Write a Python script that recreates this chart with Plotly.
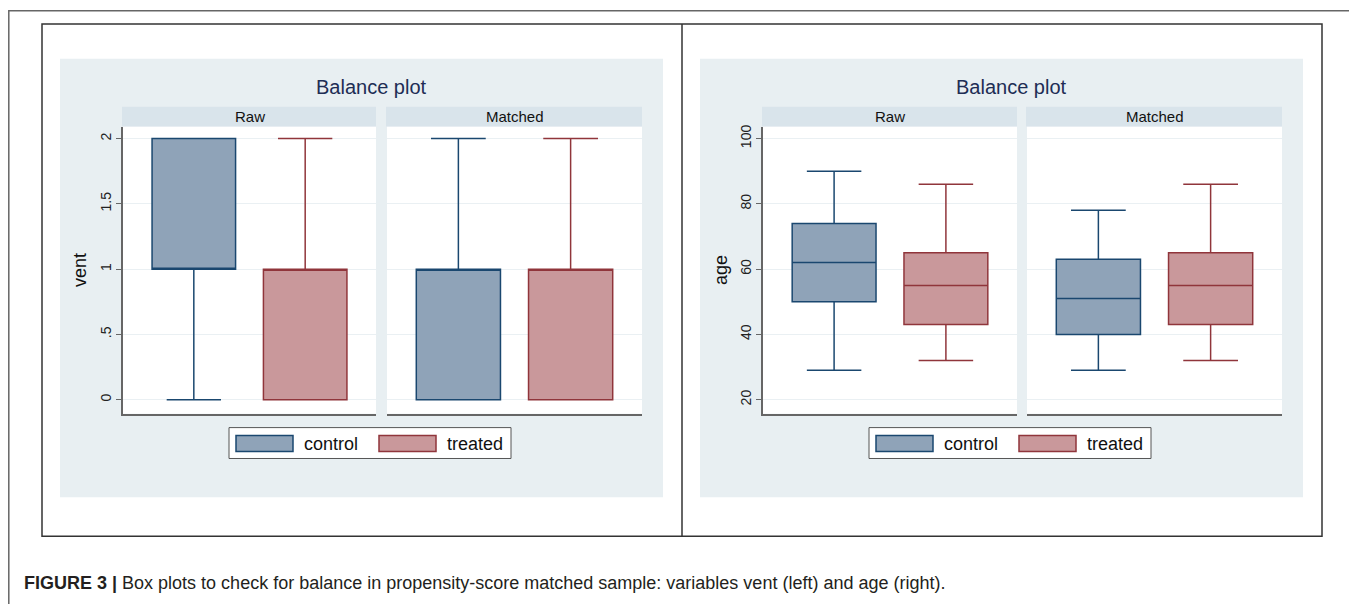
import plotly.graph_objects as go

# page body has an 8px default margin; lay out in page pixels and convert
OFF = 8
W, H = 1357 - OFF, 604 - OFF

groups = ["control", "treated"]
facets = ["Raw", "Matched"]

# vent: [lowerfence, q1, median, q3, upperfence] per facet per group
vent_raw_control = [0, 1, 1, 2, 2]
vent_raw_treated = [0, 0, 1, 1, 2]
vent_matched_control = [0, 0, 1, 1, 2]
vent_matched_treated = [0, 0, 1, 1, 2]

age_raw_control = [29, 50, 62, 74, 90]
age_raw_treated = [32, 43, 55, 65, 86]
age_matched_control = [29, 40, 51, 63, 78]
age_matched_treated = [32, 43, 55, 65, 86]

vent_ticks = [0, 0.5, 1, 1.5, 2]
vent_ticktext = ["0", ".5", "1", "1.5", "2"]
age_ticks = [20, 40, 60, 80, 100]
age_ticktext = ["20", "40", "60", "80", "100"]

caption_bold = "FIGURE 3 |"
caption_text = " Box plots to check for balance in propensity-score matched sample: variables vent (left) and age (right)."

FONT = "Arial, Liberation Sans, sans-serif"
fill_c = {"control": "rgba(143,163,184,1)", "treated": "rgba(201,152,155,1)"}
line_c = {"control": "#1a476f", "treated": "#90353b"}

def px(x):
    return (x - OFF) / W

def py(y):
    return 1 - (y - OFF) / H

fig = go.Figure()

panels = [
    (1, [vent_raw_control, vent_raw_treated], (123, 376)),
    (2, [vent_matched_control, vent_matched_treated], (387, 642)),
    (3, [age_raw_control, age_raw_treated], (763, 1017)),
    (4, [age_matched_control, age_matched_treated], (1027, 1282)),
]

for idx, data, _ in panels:
    suffix = "" if idx == 1 else str(idx)
    for g, vals in zip(groups, data):
        fig.add_trace(go.Box(
            x=[g], lowerfence=[vals[0]], q1=[vals[1]], median=[vals[2]],
            q3=[vals[3]], upperfence=[vals[4]],
            fillcolor=fill_c[g], line=dict(color=line_c[g], width=1.5),
            width=0.75, whiskerwidth=0.65, boxpoints=False,
            showlegend=False, hoverinfo="skip",
            xaxis="x" + suffix, yaxis="y" + suffix,
        ))

ydom = [py(413), py(125)]
layout = dict(
    width=W, height=H, autosize=False,
    margin=dict(l=0, r=0, t=0, b=0),
    paper_bgcolor="white", plot_bgcolor="white",
    font=dict(family=FONT, color="#222"),
    boxmode="overlay",
)
for idx, data, (x0, x1) in panels:
    suffix = "" if idx == 1 else str(idx)
    layout["xaxis" + suffix] = dict(
        domain=[px(x0), px(x1)], anchor="y" + suffix,
        type="category", categoryorder="array", categoryarray=groups,
        range=[-0.636, 1.636], showticklabels=False, ticks="",
        showgrid=False, zeroline=False, showline=True,
        linecolor="#666", linewidth=1.5, fixedrange=True,
    )
    is_vent = idx in (1, 2)
    first = idx in (1, 3)
    layout["yaxis" + suffix] = dict(
        domain=ydom, anchor="x" + suffix,
        range=[-0.107, 2.092] if is_vent else [15.73, 103.66],
        tickvals=vent_ticks if is_vent else age_ticks,
        ticktext=vent_ticktext if is_vent else age_ticktext,
        showticklabels=first, ticks="outside" if first else "",
        ticklen=5, tickcolor="#666", tickwidth=1,
        tickangle=-90, tickfont=dict(size=14, color="#222"),
        showgrid=True, gridcolor="#eaf0f3", gridwidth=1,
        zeroline=False, showline=first, linecolor="#666", linewidth=1.5,
        fixedrange=True,
    )
fig.update_layout(**layout)

shapes = []
annotations = []

# panel backgrounds
for (x0, x1) in [(60, 663), (700, 1303)]:
    shapes.append(dict(type="rect", xref="paper", yref="paper", layer="below",
                       x0=px(x0), x1=px(x1), y0=py(497), y1=py(57),
                       fillcolor="#e8eff2", line=dict(width=0)))
# plot area white backgrounds & strips
for idx, data, (x0, x1) in panels:
    shapes.append(dict(type="rect", xref="paper", yref="paper", layer="below",
                       x0=px(x0), x1=px(x1), y0=py(413), y1=py(125),
                       fillcolor="white", line=dict(width=0)))
    shapes.append(dict(type="rect", xref="paper", yref="paper", layer="below",
                       x0=px(x0 - 1), x1=px(x1), y0=py(125), y1=py(105),
                       fillcolor="#d9e4eb", line=dict(width=0)))
    annotations.append(dict(xref="paper", yref="paper", x=px((x0 + x1) / 2), y=py(115),
                            text=facets[(idx - 1) % 2], showarrow=False,
                            font=dict(size=15, color="#111", family=FONT),
                            xanchor="center", yanchor="middle"))

# titles
for cx in [371, 1011]:
    annotations.append(dict(xref="paper", yref="paper", x=px(cx), y=py(85),
                            text="Balance plot", showarrow=False,
                            font=dict(size=20, color="#1e2d55", family=FONT),
                            xanchor="center", yanchor="middle"))
# y titles
for cx, t in [(80, "vent"), (721, "age")]:
    annotations.append(dict(xref="paper", yref="paper", x=px(cx), y=py(269),
                            text=t, showarrow=False, textangle=-90,
                            font=dict(size=18, color="#111", family=FONT),
                            xanchor="center", yanchor="middle"))

# legends
for lx in [229, 869]:
    shapes.append(dict(type="rect", xref="paper", yref="paper",
                       x0=px(lx), x1=px(lx + 282), y0=py(458), y1=py(427),
                       fillcolor="white", line=dict(color="#555", width=1)))
    for g, off, toff in [("control", 7, 73), ("treated", 150, 216)]:
        shapes.append(dict(type="rect", xref="paper", yref="paper",
                           x0=px(lx + off), x1=px(lx + off + 57), y0=py(451), y1=py(435),
                           fillcolor=fill_c[g], line=dict(color=line_c[g], width=1.5)))
        annotations.append(dict(xref="paper", yref="paper", x=px(lx + toff), y=py(443),
                                text=g, showarrow=False,
                                font=dict(size=18, color="#111", family=FONT),
                                xanchor="left", yanchor="middle"))

# frames
shapes.append(dict(type="rect", xref="paper", yref="paper",
                   x0=px(8.8), x1=px(1355), y0=py(620), y1=py(8.8),
                   line=dict(color="#666", width=1.5)))
shapes.append(dict(type="rect", xref="paper", yref="paper",
                   x0=px(42), x1=px(1322), y0=py(536), y1=py(22),
                   line=dict(color="#333", width=1.5)))
shapes.append(dict(type="line", xref="paper", yref="paper",
                   x0=px(682), x1=px(682), y0=py(536), y1=py(22),
                   line=dict(color="#333", width=1.5)))

# caption
annotations.append(dict(xref="paper", yref="paper", x=px(22), y=py(583),
                        text="<b>" + caption_bold + "</b>" + caption_text,
                        showarrow=False,
                        font=dict(size=18, color="#231f20", family=FONT),
                        xanchor="left", yanchor="middle"))

fig.update_layout(shapes=shapes, annotations=annotations)
fig.write_html("out.html")
